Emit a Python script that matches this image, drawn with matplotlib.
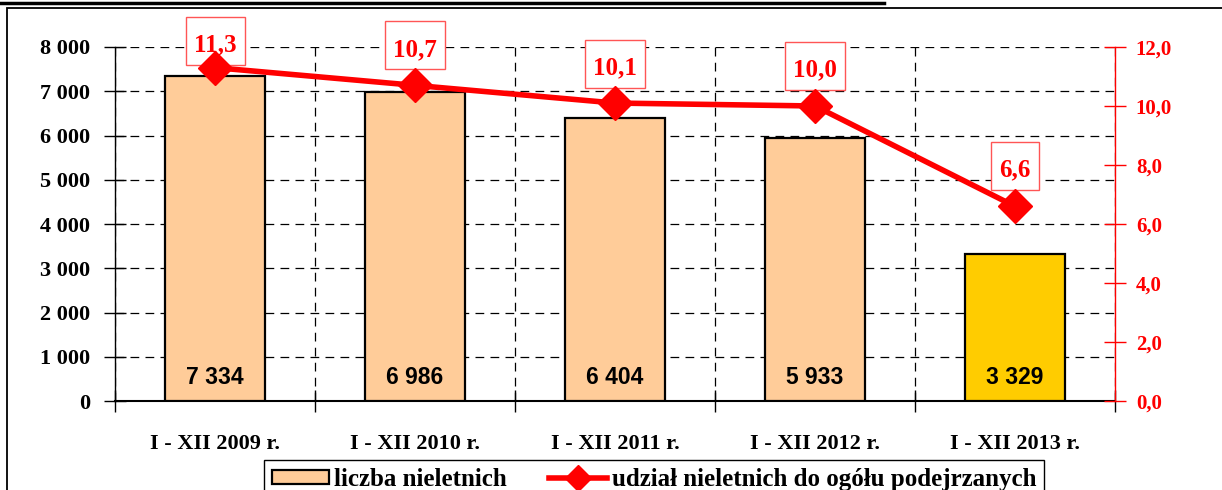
import matplotlib
matplotlib.use("Agg")
import matplotlib.pyplot as plt
from matplotlib.path import Path
from matplotlib.patches import Rectangle, Patch
from matplotlib.lines import Line2D

categories = ["I - XII 2009 r.", "I - XII 2010 r.", "I - XII 2011 r.", "I - XII 2012 r.", "I - XII 2013 r."]
counts = [7334, 6986, 6404, 5933, 3329]
count_labels = ["7 334", "6 986", "6 404", "5 933", "3 329"]
shares = [11.3, 10.7, 10.1, 10.0, 6.6]
share_labels = ["11,3", "10,7", "10,1", "10,0", "6,6"]
left_ticks = [0, 1000, 2000, 3000, 4000, 5000, 6000, 7000, 8000]
left_tick_labels = ["0", "1 000", "2 000", "3 000", "4 000", "5 000", "6 000", "7 000", "8 000"]
right_ticks = [0, 2, 4, 6, 8, 10, 12]
right_tick_labels = ["0,0", "2,0", "4,0", "6,0", "8,0", "10,0", "12,0"]
legend_labels = ["liczba nieletnich", "udział nieletnich do ogółu podejrzanych"]

bar_colors = ["#FFCC99", "#FFCC99", "#FFCC99", "#FFCC99", "#FFCC00"]
label_offsets_px = [23, 36, 35, 36, 36]

SERIF = ["Liberation Serif", "DejaVu Serif"]
SANS = ["Liberation Sans", "DejaVu Sans"]

W, H = 1222, 490
fig = plt.figure(figsize=(W / 100, H / 100), dpi=100)

# frame and top rule
fig.add_artist(Rectangle((7 / W, -0.1), 1.2, 1 - 8 / H + 0.1, transform=fig.transFigure,
                         fill=False, edgecolor="black", lw=1.3))
fig.add_artist(Line2D([0, 884 / W], [1 - 3 / H, 1 - 3 / H], transform=fig.transFigure,
                      color="black", lw=2.5))

ax = fig.add_axes([115 / W, 1 - 401 / H, (1115 - 115) / W, 354 / H])
x = list(range(len(categories)))
ax.bar(x, counts, width=0.5, color=bar_colors, edgecolor="black", linewidth=1.6, zorder=3)
ax.set_xlim(-0.5, len(categories) - 0.5)
ax.set_ylim(0, 8000)
ax.set_yticks(left_ticks)
ax.set_yticklabels(left_tick_labels, fontfamily=SERIF, fontweight="bold", fontsize=16)
ax.set_xticks([i - 0.5 for i in range(len(categories) + 1)])
ax.set_xticklabels([])
ax.set_xticks(x, minor=True)
ax.set_xticklabels(categories, minor=True, fontfamily=SERIF, fontweight="bold", fontsize=16)
ax.tick_params(axis="x", which="minor", length=0, pad=24)
ax.tick_params(axis="x", which="major", direction="inout", length=16, width=1)
ax.tick_params(axis="y", direction="inout", length=16, width=1, pad=10)
ax.grid(True, which="major", color="black", linestyle=(0, (7, 5)), linewidth=0.9)
ax.set_axisbelow(True)
for s in ["top", "right"]:
    ax.spines[s].set_visible(False)
ax.spines["left"].set_linewidth(1.0)
ax.spines["bottom"].set_linewidth(1.5)

for xi, lab in zip(x, count_labels):
    ax.annotate(lab, (xi, 0), xytext=(0, 24), textcoords="offset pixels", ha="center", va="center",
                fontfamily=SANS, fontweight="bold", fontsize=16.5, zorder=5)

ax2 = ax.twinx()
ax2.set_ylim(0, 12)
ax2.set_yticks(right_ticks)
ax2.set_yticklabels(right_tick_labels, fontfamily=SERIF, fontweight="bold", fontsize=15, color="red")
ax2.tick_params(axis="y", colors="red", direction="inout", length=16, width=1, pad=7)
for s in ["top", "left", "bottom"]:
    ax2.spines[s].set_visible(False)
ax2.spines["right"].set_color("red")
ax2.spines["right"].set_linewidth(1.0)
ax2.plot(x, shares, color="red", lw=4, marker="D", markersize=17, zorder=5)


def tall_box(x0, y0, width, height, mutation_size):
    padx = 0.33 * mutation_size
    pad_top = 0.66 * mutation_size
    pad_bottom = 0.34 * mutation_size
    x0 -= padx
    y0 -= pad_bottom
    x1 = x0 + width + 2 * padx
    y1 = y0 + height + pad_bottom + pad_top
    return Path([(x0, y0), (x1, y0), (x1, y1), (x0, y1), (x0, y0)], closed=True)


for xi, v, lab, off in zip(x, shares, share_labels, label_offsets_px):
    ax2.annotate(lab, (xi, v), xytext=(0, off), textcoords="offset pixels", ha="center", va="center",
                 fontfamily=SERIF, fontweight="bold", fontsize=18, color="red", zorder=3,
                 bbox=dict(boxstyle=tall_box, facecolor="white", edgecolor="#FF5555", lw=1.0))

handles = [Patch(facecolor="#FFCC99", edgecolor="black", lw=1.6),
           Line2D([], [], color="red", lw=4, marker="D", markersize=13)]
fig.legend(handles, legend_labels, loc="upper left",
           bbox_to_anchor=(264 / W, 1 - 460 / H),
           ncol=2, frameon=True, fancybox=False, edgecolor="black", framealpha=1,
           prop=dict(family=SERIF, weight="bold", size=18), handlelength=2.3, handleheight=0.48,
           columnspacing=1.7, handletextpad=0.2, borderpad=0.3, borderaxespad=0)

fig.savefig("out.png", dpi=100)
